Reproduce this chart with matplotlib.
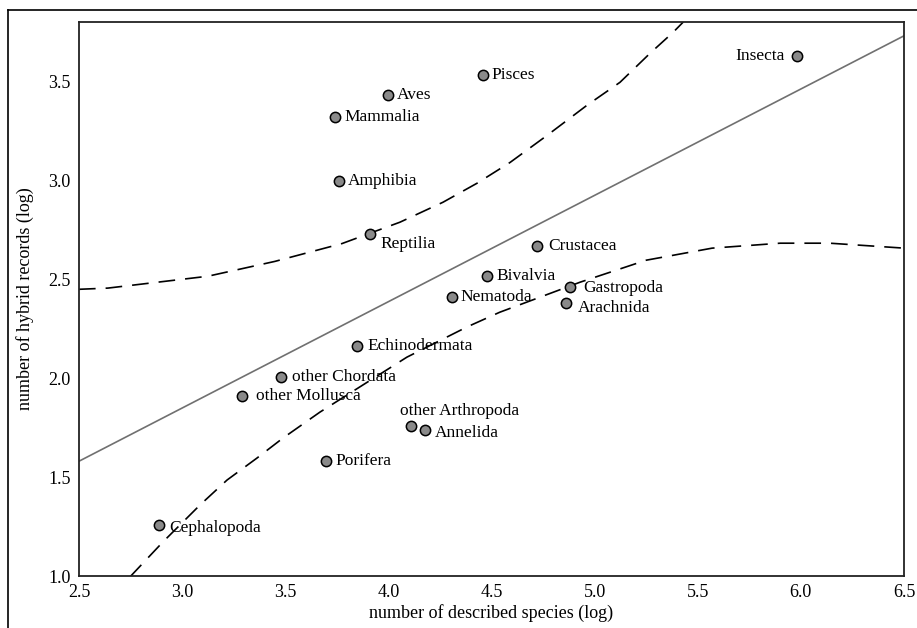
import matplotlib.pyplot as plt
from matplotlib.lines import Line2D

# taxa and their (log) values
taxa = ["Insecta", "Pisces", "Aves", "Mammalia", "Amphibia", "Reptilia",
        "Crustacea", "Bivalvia", "Gastropoda", "Arachnida", "Nematoda",
        "Echinodermata", "other Chordata", "other Mollusca",
        "other Arthropoda", "Annelida", "Porifera", "Cephalopoda"]
species = [5.98, 4.46, 4.00, 3.74, 3.76, 3.91,
           4.72, 4.48, 4.88, 4.86, 4.31,
           3.85, 3.48, 3.29,
           4.11, 4.18, 3.70, 2.89]
hybrids = [3.63, 3.53, 3.43, 3.32, 2.995, 2.73,
           2.67, 2.515, 2.46, 2.38, 2.41,
           2.16, 2.005, 1.91,
           1.76, 1.74, 1.58, 1.26]

# regression line end points
fit_x = [2.5, 6.5]
fit_y = [1.58, 3.73]

# confidence band curves
upper_x = [2.50, 2.64, 3.125, 3.45, 3.775, 3.91, 4.056, 4.265, 4.43, 4.59,
           4.77, 4.963, 5.123, 5.268, 5.38, 5.43]
upper_y = [2.449, 2.455, 2.515, 2.59, 2.68, 2.732, 2.788, 2.889, 2.985, 3.09,
           3.227, 3.379, 3.495, 3.641, 3.747, 3.80]
lower_x = [2.747, 2.907, 3.087, 3.218, 3.363, 3.489, 3.668, 4.09, 4.38, 4.54,
           4.93, 5.25, 5.57, 5.90, 6.14, 6.50]
lower_y = [0.995, 1.172, 1.359, 1.485, 1.596, 1.697, 1.828, 2.106, 2.258, 2.333,
           2.485, 2.596, 2.657, 2.682, 2.682, 2.657]

# label placement (pixel offsets, horizontal alignment)
offsets = {
    "Insecta": (-12, 0, "right"), "Pisces": (8, 0, "left"), "Aves": (8, 0, "left"),
    "Mammalia": (10, 0, "left"), "Amphibia": (9, 0, "left"), "Reptilia": (11, -10, "left"),
    "Crustacea": (11, 0, "left"), "Bivalvia": (9, 0, "left"), "Gastropoda": (13, -1, "left"),
    "Arachnida": (12, -5, "left"), "Nematoda": (8, 0, "left"), "Echinodermata": (10, 0, "left"),
    "other Chordata": (11, 0, "left"), "other Mollusca": (14, 0, "left"),
    "other Arthropoda": (-11, 15, "left"), "Annelida": (9, -3, "left"),
    "Porifera": (9, 0, "left"), "Cephalopoda": (10, -3, "left"),
}

plt.rcParams['font.family'] = ['Liberation Serif', 'DejaVu Serif']

fig = plt.figure(figsize=(9.17, 6.28), dpi=100)
ax = fig.add_axes([0.0861, 0.0828, 0.8997, 0.8822])

ax.plot(fit_x, fit_y, color="#707070", lw=1.2, zorder=2)
ax.plot(upper_x, upper_y, color="black", lw=1.2, dashes=(10, 6), zorder=2)
ax.plot(lower_x, lower_y, color="black", lw=1.2, dashes=(10, 6), zorder=2)
ax.scatter(species, hybrids, s=55, facecolor="#8a8a8a", edgecolor="black",
           linewidth=1.1, zorder=3)

for name, x, y in zip(taxa, species, hybrids):
    dx, dy, ha = offsets[name]
    ax.annotate(name, (x, y), xytext=(dx, dy), textcoords="offset pixels",
                ha=ha, va="center", fontsize=12.5, zorder=4)

ax.set_xlim(2.5, 6.5)
ax.set_ylim(1.0, 3.8)
ax.set_xticks([2.5, 3.0, 3.5, 4.0, 4.5, 5.0, 5.5, 6.0, 6.5])
ax.set_yticks([1.0, 1.5, 2.0, 2.5, 3.0, 3.5])
ax.tick_params(length=0, labelsize=13, pad=6)
for sp in ax.spines.values():
    sp.set_linewidth(1.3)
    sp.set_color("#222222")

ax.set_xlabel("number of described species (log)", fontsize=13, labelpad=2)
ax.set_ylabel("number of hybrid records (log)", fontsize=13, labelpad=10)

# outer frame of the original picture
fig.add_artist(Line2D([8 / 917, 8 / 917], [0, 1 - 10 / 628], color="black", lw=1.2))
fig.add_artist(Line2D([8 / 917, 1], [1 - 10 / 628, 1 - 10 / 628], color="black", lw=1.2))

fig.savefig("out.png", dpi=100)
